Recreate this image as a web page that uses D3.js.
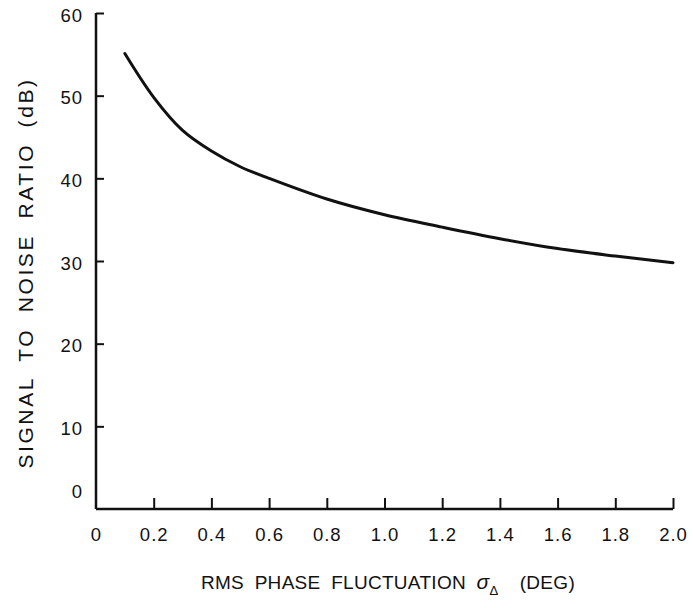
<!DOCTYPE html>
<html>
<head>
<meta charset="utf-8">
<script src="https://cdn.jsdelivr.net/npm/d3@7"></script>
<style>
  html, body { margin: 0; padding: 0; background: #fff; }
  svg text { font-family: 'Liberation Sans', Arial, sans-serif; fill: #111; white-space: pre; }
</style>
</head>
<body>
<div id="chart"></div>
<script>
// ─── Data ───
const phaseDeg = [0.1, 0.2, 0.3, 0.4, 0.5, 0.6, 0.8, 1.0, 1.2, 1.4, 1.6, 1.8, 2.0];
const snrDb    = [55.1, 49.8, 45.8, 43.3, 41.4, 40.0, 37.5, 35.6, 34.1, 32.7, 31.5, 30.6, 29.8];
const xTicks = [0.2, 0.4, 0.6, 0.8, 1.0, 1.2, 1.4, 1.6, 1.8, 2.0];
const yTicks = [10, 20, 30, 40, 50, 60];

const W = 693, H = 608;
const m = { left: 96, top: 13, right: 20, bottom: 99 };

const svg = d3.select('#chart').append('svg')
  .attr('width', W).attr('height', H);

const x = d3.scaleLinear().domain([0, 2]).range([m.left, 673]);
const y = d3.scaleLinear().domain([0, 60]).range([509, m.top]);

const ink = '#111';
const tickFont = 18.5;

// ─── Axes ───
const xAxis = svg.append('g')
  .attr('transform', `translate(0, ${y(0)})`)
  .call(d3.axisBottom(x).tickValues(xTicks).tickSize(-11).tickPadding(0).tickFormat(d3.format('.1f')));
xAxis.select('.domain').attr('d', `M${x(0)},0H${x(2)}`);

const yAxis = svg.append('g')
  .attr('transform', `translate(${x(0)}, 0)`)
  .call(d3.axisLeft(y).tickValues(yTicks).tickSize(-8).tickPadding(0).tickFormat(d3.format('d')));
yAxis.select('.domain').attr('d', `M0,${y(0)}V${y(60)}`);

[xAxis, yAxis].forEach(a => {
  a.select('.domain').attr('stroke', ink).attr('stroke-width', 2.5);
  a.selectAll('.tick line').attr('stroke', ink).attr('stroke-width', 2);
  a.selectAll('text').attr('font-size', tickFont).attr('fill', ink)
    .attr('letter-spacing', '1px')
    .style('font-family', "'Liberation Sans', Arial, sans-serif");
});

xAxis.selectAll('.tick text').attr('y', 32).attr('dy', 0);
yAxis.selectAll('.tick text').attr('x', -13).attr('dy', '0.45em');

// origin labels
svg.append('text')
  .attr('x', x(0)).attr('y', y(0) + 32)
  .attr('text-anchor', 'middle')
  .attr('font-size', tickFont)
  .text('0');
svg.append('text')
  .attr('x', x(0) - 14).attr('y', y(0) - 19)
  .attr('text-anchor', 'end')
  .attr('dy', '0.45em')
  .attr('font-size', tickFont)
  .text('0');

// ─── Curve ───
const line = d3.line()
  .x((d, i) => x(phaseDeg[i]))
  .y(d => y(d))
  .curve(d3.curveCatmullRom.alpha(0.5));

svg.append('path')
  .attr('d', line(snrDb))
  .attr('fill', 'none')
  .attr('stroke', ink)
  .attr('stroke-width', 3)
  .attr('stroke-linecap', 'round');

// ─── Titles ───
const xt = svg.append('text')
  .attr('x', 388).attr('y', 589)
  .attr('text-anchor', 'middle')
  .attr('font-size', 19)
  .attr('letter-spacing', '0.3px')
  .attr('word-spacing', '5px');
xt.append('tspan').text('RMS PHASE FLUCTUATION ');
xt.append('tspan').attr('font-style', 'italic').attr('font-size', 21).text('σ');
xt.append('tspan').attr('font-size', 13).attr('dy', 6).text('Δ');
xt.append('tspan').attr('dy', -6).text('  (DEG)');

svg.append('text')
  .attr('transform', 'translate(33, 273) rotate(-90)')
  .attr('text-anchor', 'middle')
  .attr('font-size', 21)
  .attr('letter-spacing', '2.6px')
  .attr('word-spacing', '7px')
  .text('SIGNAL TO NOISE RATIO (dB)');
</script>
</body>
</html>
